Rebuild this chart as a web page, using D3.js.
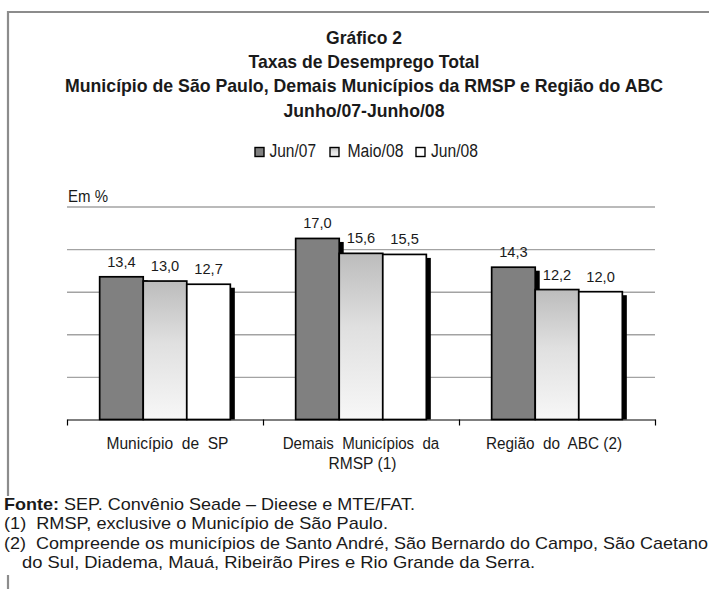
<!DOCTYPE html>
<html>
<head>
<meta charset="utf-8">
<script src="https://cdn.jsdelivr.net/npm/d3@7"></script>
<style>
  html, body { margin: 0; padding: 0; background: #fff; }
  svg { display: block; }
  text { font-family: "Liberation Sans", Arial, Helvetica, sans-serif; fill: #1a1a1a; }
</style>
</head>
<body>
<svg id="chart" width="709" height="589"></svg>
<script>
// ---------- data ----------
const titleLines = [
  "Gráfico 2",
  "Taxas de Desemprego Total",
  "Município de São Paulo, Demais Municípios da RMSP e Região do ABC",
  "Junho/07-Junho/08"
];
const categories = ["Município de SP", "Demais Municípios da RMSP (1)", "Região do ABC (2)"];
const categoryLines = [["Município  de  SP"], ["Demais  Municípios  da", "RMSP (1)"], ["Região  do  ABC (2)"]];
const seriesNames = ["Jun/07", "Maio/08", "Jun/08"];
const jun07 = [13.4, 17.0, 14.3];
const maio08 = [13.0, 15.6, 12.2];
const jun08 = [12.7, 15.5, 12.0];
const gridTicks = [4, 8, 12, 16, 20];
const unitLabel = "Em %";
const sourceLabel = "Fonte:";
const sourceText = " SEP. Convênio Seade – Dieese e MTE/FAT.";
const notes = [
  "(1)  RMSP, exclusive o Município de São Paulo.",
  "(2)  Compreende os municípios de Santo André, São Bernardo do Campo, São Caetano",
  "do Sul, Diadema, Mauá, Ribeirão Pires e Rio Grande da Serra."
];

const seriesValues = [jun07, maio08, jun08];

// ---------- setup ----------
const svg = d3.select("#chart");
const defs = svg.append("defs");
const grad = defs.append("linearGradient").attr("id", "gradMaio")
  .attr("x1", 0).attr("y1", 0).attr("x2", 0).attr("y2", 1);
grad.append("stop").attr("offset", "0%").attr("stop-color", "#bcbcbc");
grad.append("stop").attr("offset", "45%").attr("stop-color", "#e0e0e0");
grad.append("stop").attr("offset", "100%").attr("stop-color", "#f7f7f7");

const fills = ["#808080", "url(#gradMaio)", "#ffffff"];

// frame
const frame = svg.append("g").attr("stroke", "#8c8c8c").attr("stroke-width", 2.2);
frame.append("line").attr("x1", 7).attr("x2", 709).attr("y1", 12).attr("y2", 12);
frame.append("line").attr("x1", 8).attr("x2", 8).attr("y1", 11).attr("y2", 496);
frame.append("line").attr("x1", 8).attr("x2", 8).attr("y1", 575).attr("y2", 589);

// title
const titleBase = [44, 68, 92, 117];
const titleW = [76, 231, 598, 161];
svg.append("g").selectAll("text").data(titleLines).join("text")
  .attr("x", 364).attr("y", (d, i) => titleBase[i])
  .attr("text-anchor", "middle")
  .attr("font-weight", "bold").attr("font-size", 19)
  .attr("textLength", (d, i) => titleW[i]).attr("lengthAdjust", "spacingAndGlyphs")
  .text(d => d);

// legend
const legX = [255, 330, 416];
const legTextX = [269.5, 347.5, 431];
const legTextW = [46.5, 56, 47];
const leg = svg.append("g");
leg.selectAll("rect").data(seriesNames).join("rect")
  .attr("x", (d, i) => legX[i]).attr("y", 147.5)
  .attr("width", 9).attr("height", 9)
  .attr("fill", (d, i) => fills[i]).attr("stroke", "#000").attr("stroke-width", 1.4);
leg.selectAll("text").data(seriesNames).join("text")
  .attr("x", (d, i) => legTextX[i]).attr("y", 157)
  .attr("font-size", 18)
  .attr("textLength", (d, i) => legTextW[i]).attr("lengthAdjust", "spacingAndGlyphs")
  .text(d => d);

// scales
const x = d3.scaleBand().domain(categories).range([67, 655]).paddingInner(0).paddingOuter(0);
const xs = d3.scaleBand().domain(seriesNames).range([0, x.bandwidth()]).paddingInner(0).paddingOuter(0.75);
const y = d3.scaleLinear().domain([0, 20]).range([419.5, 206.5]);

// unit label
svg.append("text").attr("x", 68).attr("y", 202).attr("font-size", 16.5)
  .attr("textLength", 40).attr("lengthAdjust", "spacingAndGlyphs").text(unitLabel);

// gridlines
const grid = svg.append("g").attr("transform", "translate(67,0)")
  .call(d3.axisLeft(y).tickValues(gridTicks).tickSize(-588).tickFormat(""));
grid.select(".domain").remove();
grid.selectAll(".tick line").attr("stroke", "#a3a3a3").attr("stroke-width", 1.4);

// bars
const barG = svg.append("g");
categories.forEach((c, ci) => {
  const g = barG.append("g").attr("transform", `translate(${x(c)},0)`);
  seriesNames.forEach((s, si) => {
    const v = seriesValues[si][ci];
    const bx = xs(s), bw = xs.bandwidth();
    const top = y(v), h = y(0) - y(v);
    g.append("rect").attr("x", bx + 4.5).attr("y", top + 3.5)
      .attr("width", bw).attr("height", h - 3.5).attr("fill", "#000");
    g.append("rect").attr("x", bx).attr("y", top)
      .attr("width", bw).attr("height", h)
      .attr("fill", fills[si]).attr("stroke", "#000").attr("stroke-width", 1.7);
    g.append("text").attr("x", bx + bw / 2).attr("y", top - 10)
      .attr("text-anchor", "middle").attr("font-size", 15.5)
      .attr("textLength", 28.5).attr("lengthAdjust", "spacingAndGlyphs")
      .text(d3.format(".1f")(v).replace(".", ","));
  });
});

// axis with ticks at category boundaries
const xb = d3.scaleLinear().domain([0, categories.length]).range([67, 655]);
const axis = svg.append("g").attr("transform", "translate(0,419.5)")
  .call(d3.axisBottom(xb).tickValues(d3.range(categories.length + 1)).tickSize(6).tickSizeOuter(0).tickFormat(""));
axis.select(".domain").attr("stroke", "#000").attr("stroke-width", 1.2);
axis.selectAll(".tick line").attr("stroke", "#000").attr("stroke-width", 1.2);

// category labels
const catW = [[122], [156.5, 68], [136]];
const catDX = [2.5, 0, -3];
categories.forEach((c, ci) => {
  categoryLines[ci].forEach((line, li) => {
    svg.append("text")
      .attr("x", x(c) + x.bandwidth() / 2 + catDX[ci] + (li === 1 ? 1.5 : 0))
      .attr("y", 449 + li * 19.5)
      .attr("text-anchor", "middle").attr("font-size", 16)
      .attr("xml:space", "preserve")
      .attr("textLength", catW[ci][li]).attr("lengthAdjust", "spacingAndGlyphs")
      .text(line);
  });
});

// footnotes
const fn = svg.append("g");
const src = fn.append("text").attr("x", 4).attr("y", 510).attr("font-size", 17)
  .attr("textLength", 411).attr("lengthAdjust", "spacingAndGlyphs");
src.append("tspan").attr("font-weight", "bold").text(sourceLabel);
src.append("tspan").text(sourceText);
const noteX = [4, 4, 22];
const noteBase = [529.3, 549, 568.3];
const noteW = [384, 704, 513];
notes.forEach((n, i) => {
  fn.append("text").attr("x", noteX[i]).attr("y", noteBase[i]).attr("font-size", 17)
    .attr("xml:space", "preserve")
    .attr("textLength", noteW[i]).attr("lengthAdjust", "spacingAndGlyphs").text(n);
});
</script>
</body>
</html>
